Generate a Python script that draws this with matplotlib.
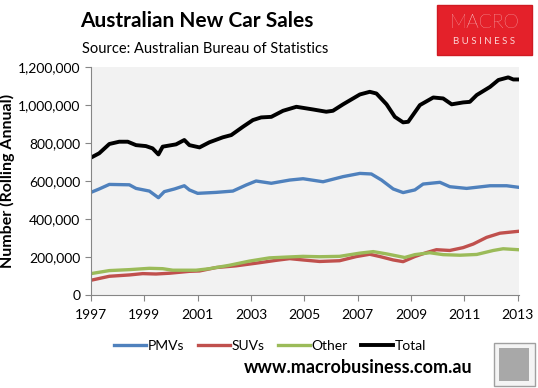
import numpy as np
import matplotlib.pyplot as plt
from matplotlib.patches import Rectangle
from matplotlib.ticker import FuncFormatter

plt.rcParams['font.family'] = ['Lato', 'DejaVu Sans']

# Data (rolling annual sales, thousands)
total_years = [1997.0, 1997.31, 1997.69, 1998.06, 1998.38, 1998.69, 1999.06, 1999.31, 1999.53,
               1999.69, 2000.19, 2000.5, 2000.69, 2001.07, 2001.44, 2001.94, 2002.26, 2002.7,
               2003.07, 2003.38, 2003.76, 2004.2, 2004.7, 2005.32, 2005.82, 2006.07, 2006.45,
               2007.08, 2007.45, 2007.7, 2008.08, 2008.39, 2008.7, 2008.89, 2009.33, 2009.83,
               2010.2, 2010.52, 2010.95, 2011.2, 2011.46, 2011.96, 2012.27, 2012.64, 2012.83, 2013.02]
total = [723, 746, 795, 807, 807, 789, 784, 772, 740,
         781, 793, 816, 789, 777, 804, 830, 842, 886,
         921, 935, 938, 970, 991, 977, 965, 970, 1004,
         1056, 1070, 1061, 1004, 938, 909, 912, 1000, 1040,
         1035, 1004, 1014, 1017, 1053, 1096, 1132, 1146, 1135, 1135]

pmv_years = [1997.0, 1997.31, 1997.69, 1998.44, 1998.69, 1999.19, 1999.53, 1999.75, 2000.13,
             2000.5, 2000.69, 2001.0, 2001.69, 2002.32, 2002.82, 2003.19, 2003.76, 2004.45,
             2004.95, 2005.7, 2006.45, 2007.08, 2007.51, 2007.89, 2008.33, 2008.7, 2009.14,
             2009.45, 2010.08, 2010.45, 2011.08, 2011.96, 2012.58, 2013.02]
pmvs = [540, 558, 582, 580, 561, 547, 512, 544, 558,
        575, 553, 535, 540, 547, 579, 600, 588, 605,
        612, 596, 623, 640, 637, 605, 558, 539, 553,
        584, 593, 570, 561, 575, 575, 567]

suv_years = [1997.0, 1997.69, 1998.44, 1998.94, 1999.44, 1999.94, 2000.69, 2001.07, 2001.69,
             2002.44, 2003.19, 2003.94, 2004.45, 2004.95, 2005.57, 2006.32, 2006.95, 2007.45,
             2007.83, 2008.33, 2008.7, 2009.14, 2009.58, 2009.95, 2010.45, 2010.95, 2011.33,
             2011.83, 2012.33, 2013.02]
suvs = [77, 98, 105, 112, 110, 114, 124, 126, 144,
        153, 167, 182, 191, 184, 176, 180, 202, 214,
        202, 184, 175, 202, 223, 238, 234, 249, 268,
        303, 325, 335]

other_years = [1997.0, 1997.69, 1998.44, 1999.19, 1999.69, 2000.07, 2000.94, 2001.44, 2002.19,
               2002.94, 2003.69, 2004.45, 2004.95, 2005.57, 2006.32, 2007.08, 2007.58, 2008.08,
               2008.76, 2009.14, 2009.7, 2010.2, 2010.83, 2011.46, 2012.08, 2012.45, 2013.02]
other = [112, 128, 133, 140, 138, 130, 130, 138, 156,
         178, 195, 200, 203, 201, 203, 220, 228, 216,
         197, 212, 222, 212, 209, 213, 234, 243, 238]

fig = plt.figure(figsize=(5.38, 3.88), dpi=100)
fig.patch.set_facecolor('white')
ax = fig.add_axes([0.169, 0.240, 0.796, 0.587])
ax.set_facecolor('#F2F2F2')

ax.plot(pmv_years, np.array(pmvs) * 1000, color='#4F81BD', lw=2.4, label='PMVs')
ax.plot(suv_years, np.array(suvs) * 1000, color='#C0504D', lw=2.4, label='SUVs')
ax.plot(other_years, np.array(other) * 1000, color='#9BBB59', lw=2.4, label='Other')
ax.plot(total_years, np.array(total) * 1000, color='black', lw=2.8, label='Total')

ax.set_xlim(1997, 2013.05)
ax.set_ylim(0, 1200000)
ax.set_xticks(range(1997, 2014, 2))
ax.set_yticks(range(0, 1200001, 200000))
ax.yaxis.set_major_formatter(FuncFormatter(lambda v, p: f'{int(v):,}'))
for s in ['top', 'right']:
    ax.spines[s].set_visible(False)
for s in ['left', 'bottom']:
    ax.spines[s].set_color('#868686')
ax.tick_params(axis='both', colors='#868686', labelcolor='black', labelsize=10, length=4, direction='out')
ax.tick_params(axis='x', pad=6)
ax.set_ylabel('Number (Rolling Annual)', fontsize=11.5, fontweight='bold')
ax.yaxis.set_label_coords(-0.178, 0.5)

fig.legend(loc='center', bbox_to_anchor=(0.502, 0.108), ncol=4, frameon=False,
           fontsize=10, handlelength=2.3, handletextpad=0.1, columnspacing=1.0)

fig.text(0.149, 0.946, 'Australian New Car Sales', fontsize=15, fontweight='bold', va='center')
fig.text(0.152, 0.874, 'Source: Australian Bureau of Statistics', fontsize=10.5, va='center')

# Logo box
fig.patches.append(Rectangle((0.812, 0.858), 0.177, 0.129, transform=fig.transFigure,
                             facecolor='#E4212A', edgecolor='#D01A22', lw=1))
fig.text(0.9, 0.94, 'MACRO', color='white', fontsize=14, fontweight='light',
         ha='center', va='center')
fig.text(0.9, 0.894, 'B U S I N E S S', color='#FBD5D5', fontsize=7,
         ha='center', va='center')

# Small emblem at bottom right
fig.patches.append(Rectangle((0.918, 0.005), 0.076, 0.11, transform=fig.transFigure,
                             facecolor='#F4F4F4', edgecolor='#A0A0A0', lw=1))
fig.patches.append(Rectangle((0.928, 0.018), 0.056, 0.084, transform=fig.transFigure,
                             facecolor='#A8A8A8', edgecolor='none'))

fig.text(0.665, 0.054, 'www.macrobusiness.com.au', fontsize=13, fontweight='bold',
         ha='center', va='center')

fig.savefig('out.png', dpi=100)
